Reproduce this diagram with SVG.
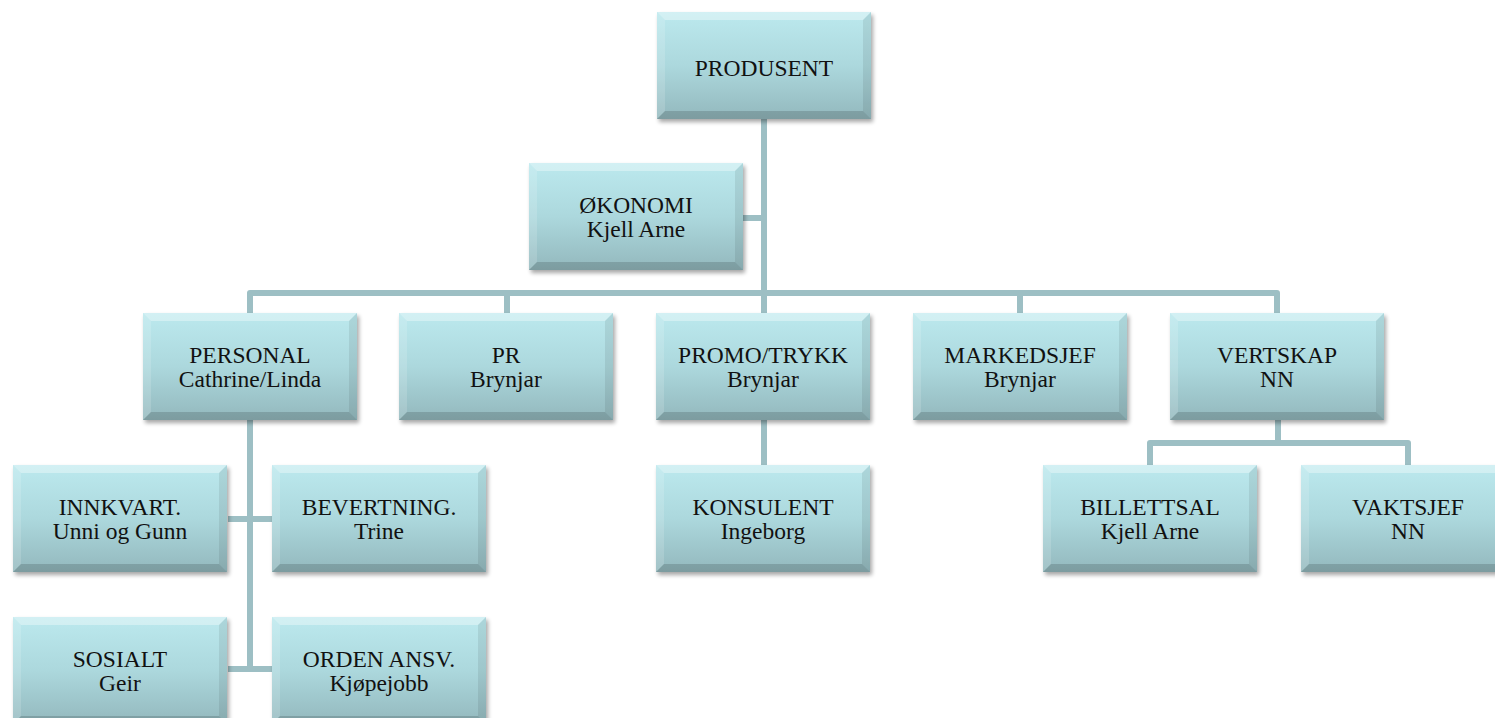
<svg xmlns="http://www.w3.org/2000/svg" xmlns:xlink="http://www.w3.org/1999/xlink" width="1495" height="718" viewBox="0 0 1495 718">
<style>
.c{fill:none;stroke:#9DBFC4;stroke-width:6;stroke-linejoin:round;stroke-linecap:butt}
.t{font-family:"Liberation Serif","Times New Roman",serif;font-size:23.5px;fill:#111;text-anchor:middle}
</style>
<defs>
<linearGradient id="g" x1="0" y1="0" x2="0" y2="1">
<stop offset="0" stop-color="#BCE9EE"/>
<stop offset="0.5" stop-color="#ACD8DD"/>
<stop offset="1" stop-color="#93B8BD"/>
</linearGradient>
<filter id="sh" x="-10%" y="-10%" width="120%" height="130%">
<feGaussianBlur stdDeviation="2"/>
</filter>
<g id="box">
<rect x="2" y="3" width="214" height="107" fill="#000" opacity="0.35" filter="url(#sh)"/>
<rect x="0" y="0" width="214" height="107" fill="url(#g)"/>
<polygon points="0,0 214,0 206,8 8,8" fill="#fff" opacity="0.35"/>
<polygon points="0,0 8,8 8,99 0,107" fill="#fff" opacity="0.15"/>
<polygon points="214,0 206,8 206,99 214,107" fill="#000" opacity="0.08"/>
<polygon points="0,107 214,107 206,99 8,99" fill="#000" opacity="0.15"/>
</g>
</defs>
<rect width="1495" height="718" fill="#fff"/>
<g id="connectors">
<path class="c" d="M764,118 V293"/>
<path class="c" d="M743,218 H764"/>
<path class="c" d="M250,313 V293 H1277 V313"/>
<path class="c" d="M507,293 V313 M764,293 V313 M1020,293 V313"/>
<path class="c" d="M250,420 V669"/>
<path class="c" d="M228,519 H272 M228,669 H272"/>
<path class="c" d="M764,420 V465"/>
<path class="c" d="M1278,420 V443 M1150,466 V443 H1408 V466"/>
</g>
<g id="n-produsent"><use xlink:href="#box" x="657" y="12"/><text class="t" x="764" y="76">PRODUSENT</text></g>
<g id="n-okonomi"><use xlink:href="#box" x="529" y="163"/><text class="t" x="636" y="213">ØKONOMI</text><text class="t" x="636" y="237">Kjell Arne</text></g>
<g id="n-personal"><use xlink:href="#box" x="143" y="313"/><text class="t" x="250" y="363">PERSONAL</text><text class="t" x="250" y="387">Cathrine/Linda</text></g>
<g id="n-pr"><use xlink:href="#box" x="399" y="313"/><text class="t" x="506" y="363">PR</text><text class="t" x="506" y="387">Brynjar</text></g>
<g id="n-promo"><use xlink:href="#box" x="656" y="313"/><text class="t" x="763" y="363">PROMO/TRYKK</text><text class="t" x="763" y="387">Brynjar</text></g>
<g id="n-markedsjef"><use xlink:href="#box" x="913" y="313"/><text class="t" x="1020" y="363">MARKEDSJEF</text><text class="t" x="1020" y="387">Brynjar</text></g>
<g id="n-vertskap"><use xlink:href="#box" x="1170" y="313"/><text class="t" x="1277" y="363">VERTSKAP</text><text class="t" x="1277" y="387">NN</text></g>
<g id="n-innkvart"><use xlink:href="#box" x="13" y="465"/><text class="t" x="120" y="515">INNKVART.</text><text class="t" x="120" y="539">Unni og Gunn</text></g>
<g id="n-bevertning"><use xlink:href="#box" x="272" y="465"/><text class="t" x="379" y="515">BEVERTNING.</text><text class="t" x="379" y="539">Trine</text></g>
<g id="n-konsulent"><use xlink:href="#box" x="656" y="465"/><text class="t" x="763" y="515">KONSULENT</text><text class="t" x="763" y="539">Ingeborg</text></g>
<g id="n-billettsal"><use xlink:href="#box" x="1043" y="465"/><text class="t" x="1150" y="515">BILLETTSAL</text><text class="t" x="1150" y="539">Kjell Arne</text></g>
<g id="n-vaktsjef"><use xlink:href="#box" x="1301" y="465"/><text class="t" x="1408" y="515">VAKTSJEF</text><text class="t" x="1408" y="539">NN</text></g>
<g id="n-sosialt"><use xlink:href="#box" x="13" y="617"/><text class="t" x="120" y="667">SOSIALT</text><text class="t" x="120" y="691">Geir</text></g>
<g id="n-orden"><use xlink:href="#box" x="272" y="617"/><text class="t" x="379" y="667">ORDEN ANSV.</text><text class="t" x="379" y="691">Kjøpejobb</text></g>
</svg>
